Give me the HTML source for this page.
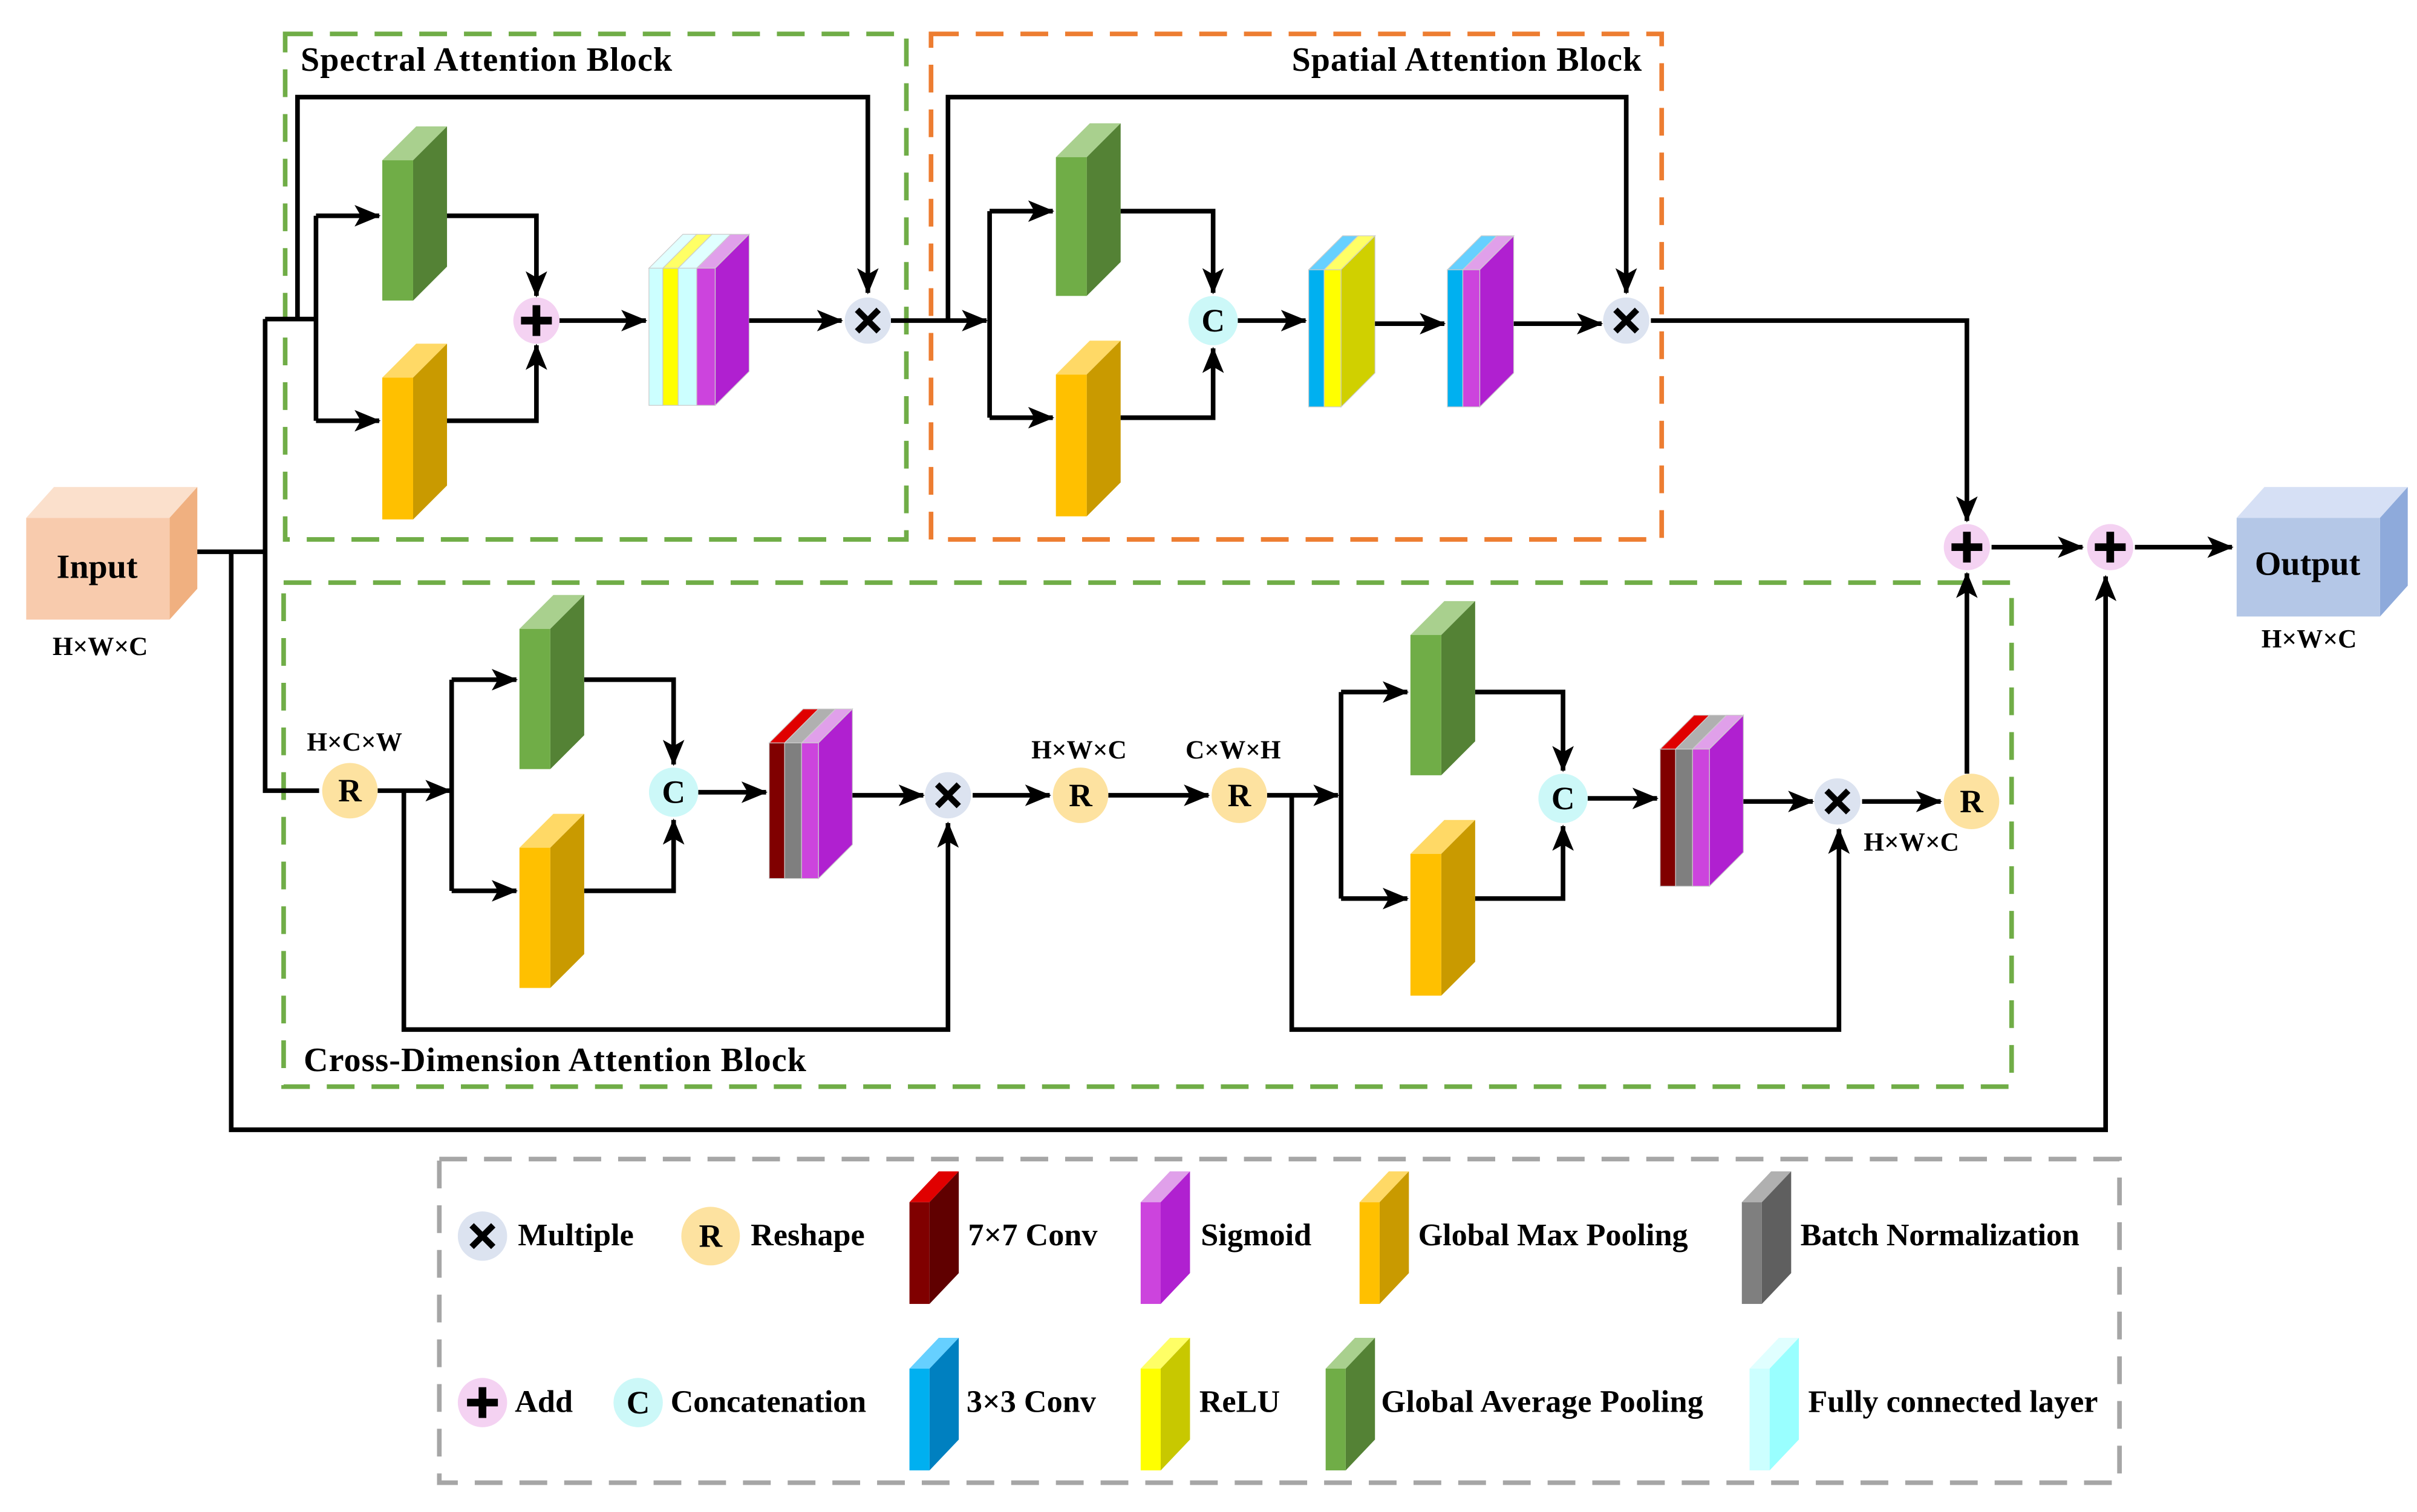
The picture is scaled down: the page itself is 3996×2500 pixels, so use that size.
<!DOCTYPE html>
<html><head><meta charset="utf-8"><style>
html,body{margin:0;padding:0;background:#fff;}
svg{display:block;}
text{font-family:"Liberation Serif",serif;font-weight:bold;fill:#000;}
</style></head><body>
<svg width="3996" height="2500" viewBox="0 0 1568 981" preserveAspectRatio="none" xmlns="http://www.w3.org/2000/svg">
<defs>
<marker id="a" markerUnits="userSpaceOnUse" markerWidth="18" markerHeight="14" refX="16" refY="7" orient="auto"><path d="M0,0 L17,7 L0,14 L4,7 Z" fill="#000"/></marker>
<g id="plus"><path d="M-10,0 H10 M0,-10 V10" stroke="#000" stroke-width="5" fill="none"/></g>
<g id="times"><path d="M-7,-7 L7,7 M7,-7 L-7,7" stroke="#000" stroke-width="4" fill="none"/></g>
</defs>
<!-- dashed boxes -->
<g fill="none" stroke-width="3" stroke-dasharray="18,11">
<rect x="185" y="22" width="403" height="328" stroke="#70ad47"/>
<rect x="604" y="22" width="474" height="328" stroke="#ed7d31"/>
<rect x="184" y="378" width="1121" height="327" stroke="#70ad47"/>
<rect x="285" y="752" width="1090" height="210" stroke="#a6a6a6"/>
</g>
<text x="195" y="46" font-size="22" textLength="241">Spectral Attention Block</text>
<text x="838" y="46" font-size="22" textLength="227">Spatial Attention Block</text>
<text x="197" y="695" font-size="22" textLength="326">Cross-Dimension Attention Block</text>

<!-- Input / Output cubes -->
<polygon points="17,336 35,316 128,316 110,336" fill="#fbe0cc"/>
<polygon points="110,336 128,316 128,382 110,402" fill="#f0b080"/>
<rect x="17" y="336" width="93" height="66" fill="#f8cbad"/>
<text x="63" y="375" font-size="22" text-anchor="middle">Input</text>
<text x="65" y="425" font-size="17" text-anchor="middle">H×W×C</text>
<polygon points="1451,336 1469,316 1562,316 1544,336" fill="#d6e0f5"/>
<polygon points="1544,336 1562,316 1562,380 1544,400" fill="#8eaadb"/>
<rect x="1451" y="336" width="93" height="64" fill="#b4c7e7"/>
<text x="1497" y="373" font-size="22" text-anchor="middle">Output</text>
<text x="1498" y="420" font-size="17" text-anchor="middle">H×W×C</text>

<!-- blocks: green (GAP) -->
<g>
<polygon points="248,104 270,82 290,82 268,104" fill="#a9d08e"/><polygon points="268,104 290,82 290,173 268,195" fill="#548235"/><rect x="248" y="104" width="20" height="91" fill="#70ad47"/>
<polygon points="685,102 707,80 727,80 705,102" fill="#a9d08e"/><polygon points="705,102 727,80 727,170 705,192" fill="#548235"/><rect x="685" y="102" width="20" height="90" fill="#70ad47"/>
<polygon points="337,408 359,386 379,386 357,408" fill="#a9d08e"/><polygon points="357,408 379,386 379,477 357,499" fill="#548235"/><rect x="337" y="408" width="20" height="91" fill="#70ad47"/>
<polygon points="915,412 937,390 957,390 935,412" fill="#a9d08e"/><polygon points="935,412 957,390 957,481 935,503" fill="#548235"/><rect x="915" y="412" width="20" height="91" fill="#70ad47"/>
</g>
<!-- orange (GMP) -->
<g>
<polygon points="248,245 270,223 290,223 268,245" fill="#ffd966"/><polygon points="268,245 290,223 290,315 268,337" fill="#c99a00"/><rect x="248" y="245" width="20" height="92" fill="#ffc000"/>
<polygon points="685,243 707,221 727,221 705,243" fill="#ffd966"/><polygon points="705,243 727,221 727,313 705,335" fill="#c99a00"/><rect x="685" y="243" width="20" height="92" fill="#ffc000"/>
<polygon points="337,550 359,528 379,528 357,550" fill="#ffd966"/><polygon points="357,550 379,528 379,619 357,641" fill="#c99a00"/><rect x="337" y="550" width="20" height="91" fill="#ffc000"/>
<polygon points="915,554 937,532 957,532 935,554" fill="#ffd966"/><polygon points="935,554 957,532 957,624 935,646" fill="#c99a00"/><rect x="915" y="554" width="20" height="92" fill="#ffc000"/>
</g>
<!-- spectral layered block -->
<g stroke="#ccc" stroke-width="0.5">
<rect x="421" y="174" width="9" height="89" fill="#ccffff"/><rect x="430" y="174" width="10" height="89" fill="#ffff00"/><rect x="440" y="174" width="12" height="89" fill="#ccffff"/><rect x="452" y="174" width="12" height="89" fill="#cc44dd"/>
<polygon points="421,174 443,152 452,152 430,174" fill="#e0ffff"/><polygon points="430,174 452,152 462,152 440,174" fill="#ffff66"/><polygon points="440,174 462,152 474,152 452,174" fill="#e0ffff"/><polygon points="452,174 474,152 486,152 464,174" fill="#e0a0ea"/>
<polygon points="464,174 486,152 486,241 464,263" fill="#b020d0"/>
</g>
<!-- spatial blocks -->
<g stroke="#ccc" stroke-width="0.5">
<rect x="849" y="175" width="10" height="89" fill="#00b0f0"/><rect x="859" y="175" width="11" height="89" fill="#ffff00"/>
<polygon points="849,175 871,153 881,153 859,175" fill="#66d0ff"/><polygon points="859,175 881,153 892,153 870,175" fill="#ffff66"/>
<polygon points="870,175 892,153 892,242 870,264" fill="#d0d000"/>
<rect x="939" y="175" width="10" height="89" fill="#00b0f0"/><rect x="949" y="175" width="11" height="89" fill="#cc44dd"/>
<polygon points="939,175 961,153 971,153 949,175" fill="#66d0ff"/><polygon points="949,175 971,153 982,153 960,175" fill="#e0a0ea"/>
<polygon points="960,175 982,153 982,242 960,264" fill="#b020d0"/>
</g>
<!-- cross blocks -->
<g stroke="#ccc" stroke-width="0.5">
<rect x="499" y="482" width="10" height="88" fill="#800000"/><rect x="509" y="482" width="11" height="88" fill="#7f7f7f"/><rect x="520" y="482" width="11" height="88" fill="#cc44dd"/>
<polygon points="499,482 521,460 531,460 509,482" fill="#e00000"/><polygon points="509,482 531,460 542,460 520,482" fill="#b0b0b0"/><polygon points="520,482 542,460 553,460 531,482" fill="#e0a0ea"/>
<polygon points="531,482 553,460 553,548 531,570" fill="#b020d0"/>
<rect x="1077" y="486" width="10" height="89" fill="#800000"/><rect x="1087" y="486" width="11" height="89" fill="#7f7f7f"/><rect x="1098" y="486" width="11" height="89" fill="#cc44dd"/>
<polygon points="1077,486 1099,464 1109,464 1087,486" fill="#e00000"/><polygon points="1087,486 1109,464 1120,464 1098,486" fill="#b0b0b0"/><polygon points="1098,486 1120,464 1131,464 1109,486" fill="#e0a0ea"/>
<polygon points="1109,486 1131,464 1131,553 1109,575" fill="#b020d0"/>
</g>

<!-- connectors -->
<g fill="none" stroke="#000" stroke-width="3">
<polyline points="128,358 172,358"/>
<polyline points="150,358 150,733 1366,733 1366,374" marker-end="url(#a)"/>
<polyline points="172,207 172,513 207,513"/>
<polyline points="172,207 205,207"/>
<polyline points="193,207 193,63 563,63 563,190" marker-end="url(#a)"/>
<polyline points="205,140 205,273"/>
<polyline points="205,140 246,140" marker-end="url(#a)"/>
<polyline points="205,273 246,273" marker-end="url(#a)"/>
<polyline points="290,140 348,140 348,192" marker-end="url(#a)"/>
<polyline points="290,273 348,273 348,224" marker-end="url(#a)"/>
<polyline points="362,208 419,208" marker-end="url(#a)"/>
<polyline points="486,208 546,208" marker-end="url(#a)"/>
<polyline points="578,208 640,208" marker-end="url(#a)"/>
<polyline points="615,208 615,63 1055,63 1055,190" marker-end="url(#a)"/>
<polyline points="642,137 642,271"/>
<polyline points="642,137 683,137" marker-end="url(#a)"/>
<polyline points="642,271 683,271" marker-end="url(#a)"/>
<polyline points="727,137 787,137 787,190" marker-end="url(#a)"/>
<polyline points="727,271 787,271 787,226" marker-end="url(#a)"/>
<polyline points="803,208 847,208" marker-end="url(#a)"/>
<polyline points="892,210 937,210" marker-end="url(#a)"/>
<polyline points="982,210 1039,210" marker-end="url(#a)"/>
<polyline points="1071,208 1276,208 1276,338" marker-end="url(#a)"/>
<polyline points="1292,355 1351,355" marker-end="url(#a)"/>
<polyline points="1385,355 1448,355" marker-end="url(#a)"/>
<polyline points="245,513 292,513" marker-end="url(#a)"/>
<polyline points="262,513 262,668 615,668 615,534" marker-end="url(#a)"/>
<polyline points="293,441 293,578"/>
<polyline points="293,441 335,441" marker-end="url(#a)"/>
<polyline points="293,578 335,578" marker-end="url(#a)"/>
<polyline points="379,441 437,441 437,496" marker-end="url(#a)"/>
<polyline points="379,578 437,578 437,532" marker-end="url(#a)"/>
<polyline points="453,514 497,514" marker-end="url(#a)"/>
<polyline points="553,516 599,516" marker-end="url(#a)"/>
<polyline points="631,516 681,516" marker-end="url(#a)"/>
<polyline points="719,516 784,516" marker-end="url(#a)"/>
<polyline points="822,516 868,516" marker-end="url(#a)"/>
<polyline points="838,516 838,668 1193,668 1193,538" marker-end="url(#a)"/>
<polyline points="870,449 870,583"/>
<polyline points="870,449 913,449" marker-end="url(#a)"/>
<polyline points="870,583 913,583" marker-end="url(#a)"/>
<polyline points="957,449 1014,449 1014,500" marker-end="url(#a)"/>
<polyline points="957,583 1014,583 1014,536" marker-end="url(#a)"/>
<polyline points="1030,518 1075,518" marker-end="url(#a)"/>
<polyline points="1131,520 1176,520" marker-end="url(#a)"/>
<polyline points="1208,520 1259,520" marker-end="url(#a)"/>
<polyline points="1276,502 1276,372" marker-end="url(#a)"/>
</g>

<!-- operators -->
<g font-size="21" text-anchor="middle">
<circle cx="348" cy="208" r="15" fill="#f4d2f2"/><use href="#plus" x="348" y="208"/>
<circle cx="563" cy="208" r="15" fill="#dce3f0"/><use href="#times" x="563" y="208"/>
<circle cx="1055" cy="208" r="15" fill="#dce3f0"/><use href="#times" x="1055" y="208"/>
<circle cx="787" cy="208" r="16" fill="#ccf8f8"/><text x="787" y="215">C</text>
<circle cx="1276" cy="355" r="15" fill="#f4d2f2"/><use href="#plus" x="1276" y="355"/>
<circle cx="1369" cy="355" r="15" fill="#f4d2f2"/><use href="#plus" x="1369" y="355"/>
<circle cx="227" cy="513" r="18" fill="#fde2a0"/><text x="227" y="520">R</text>
<circle cx="437" cy="514" r="16" fill="#ccf8f8"/><text x="437" y="521">C</text>
<circle cx="615" cy="516" r="15" fill="#dce3f0"/><use href="#times" x="615" y="516"/>
<circle cx="701" cy="516" r="18" fill="#fde2a0"/><text x="701" y="523">R</text>
<circle cx="804" cy="516" r="18" fill="#fde2a0"/><text x="804" y="523">R</text>
<circle cx="1014" cy="518" r="16" fill="#ccf8f8"/><text x="1014" y="525">C</text>
<circle cx="1192" cy="520" r="15" fill="#dce3f0"/><use href="#times" x="1192" y="520"/>
<circle cx="1279" cy="520" r="18" fill="#fde2a0"/><text x="1279" y="527">R</text>
</g>
<g font-size="17" text-anchor="middle">
<text x="230" y="487">H×C×W</text>
<text x="700" y="492">H×W×C</text>
<text x="800" y="492">C×W×H</text>
<text x="1240" y="552">H×W×C</text>
</g>

<!-- legend -->
<g font-size="20.5">
<circle cx="313" cy="802" r="16" fill="#dce3f0"/><use href="#times" x="313" y="802"/><text x="336" y="808">Multiple</text>
<circle cx="461" cy="802" r="19" fill="#fde2a0"/><text x="461" y="809" font-size="21" text-anchor="middle">R</text><text x="487" y="808">Reshape</text>
<polygon points="590,780 609,760 622,760 603,780" fill="#e00000"/><polygon points="603,780 622,760 622,826 603,846" fill="#600000"/><rect x="590" y="780" width="13" height="66" fill="#800000"/><text x="628" y="808">7×7 Conv</text>
<polygon points="740,780 759,760 772,760 753,780" fill="#e0a0ea"/><polygon points="753,780 772,760 772,826 753,846" fill="#b020d0"/><rect x="740" y="780" width="13" height="66" fill="#cc44dd"/><text x="779" y="808">Sigmoid</text>
<polygon points="882,780 901,760 914,760 895,780" fill="#ffd966"/><polygon points="895,780 914,760 914,826 895,846" fill="#c99a00"/><rect x="882" y="780" width="13" height="66" fill="#ffc000"/><text x="920" y="808" textLength="175">Global Max Pooling</text>
<polygon points="1130,780 1149,760 1162,760 1143,780" fill="#b0b0b0"/><polygon points="1143,780 1162,760 1162,826 1143,846" fill="#5f5f5f"/><rect x="1130" y="780" width="13" height="66" fill="#7f7f7f"/><text x="1168" y="808" textLength="181">Batch Normalization</text>

<circle cx="313" cy="910" r="16" fill="#f4d2f2"/><use href="#plus" x="313" y="910"/><text x="334" y="916">Add</text>
<circle cx="414" cy="910" r="16" fill="#ccf8f8"/><text x="414" y="917" font-size="21" text-anchor="middle">C</text><text x="435" y="916" textLength="127">Concatenation</text>
<polygon points="590,888 609,868 622,868 603,888" fill="#66d0ff"/><polygon points="603,888 622,868 622,934 603,954" fill="#0080c0"/><rect x="590" y="888" width="13" height="66" fill="#00b0f0"/><text x="627" y="916">3×3 Conv</text>
<polygon points="740,888 759,868 772,868 753,888" fill="#ffff66"/><polygon points="753,888 772,868 772,934 753,954" fill="#c8c800"/><rect x="740" y="888" width="13" height="66" fill="#ffff00"/><text x="778" y="916">ReLU</text>
<polygon points="860,888 879,868 892,868 873,888" fill="#a9d08e"/><polygon points="873,888 892,868 892,934 873,954" fill="#548235"/><rect x="860" y="888" width="13" height="66" fill="#70ad47"/><text x="896" y="916" textLength="209">Global Average Pooling</text>
<polygon points="1135,888 1154,868 1167,868 1148,888" fill="#e0ffff"/><polygon points="1148,888 1167,868 1167,934 1148,954" fill="#99ffff"/><rect x="1135" y="888" width="13" height="66" fill="#ccffff"/><text x="1173" y="916" textLength="188">Fully connected layer</text>
</g>
</svg>
</body></html>
